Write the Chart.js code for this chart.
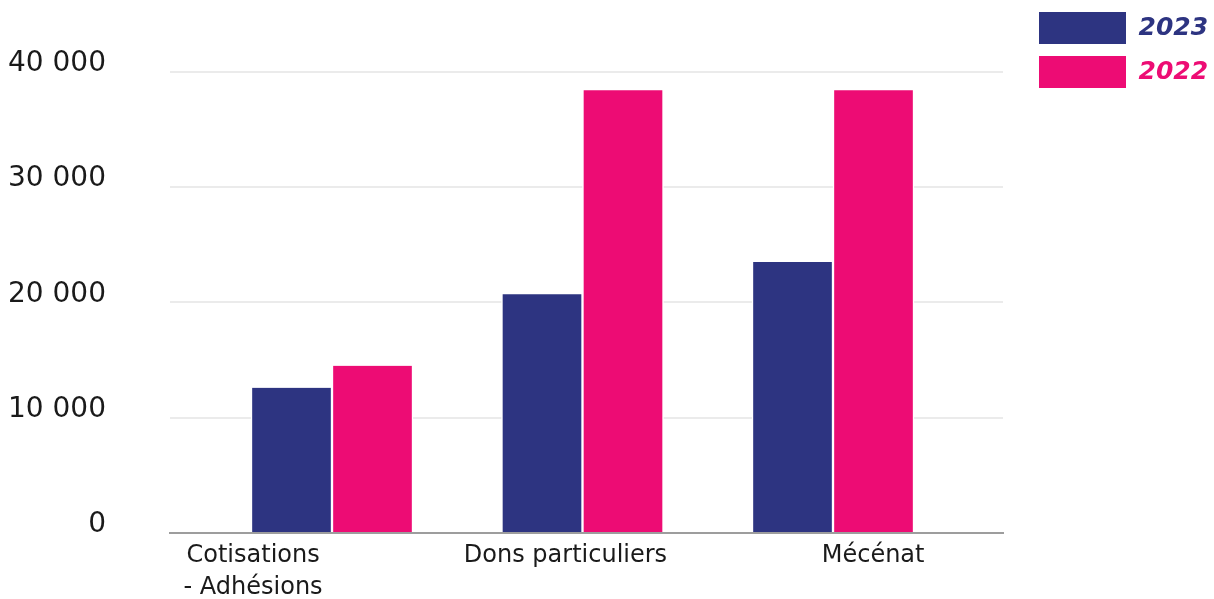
<!DOCTYPE html>
<html lang="fr">
<head>
<meta charset="utf-8">
<title>Ressources 2022–2023</title>
<script src="https://cdn.jsdelivr.net/npm/chart.js@4/dist/chart.umd.min.js"></script>
<style>
  html, body { margin: 0; padding: 0; background: #fff; }
  #wrap { width: 1214px; height: 599px; position: relative; }
</style>
</head>
<body>
<div id="wrap"><canvas id="chart"></canvas></div>
<script>
// Resource categories and yearly amounts (€)
const categories = [['Cotisations', '- Adhésions'], 'Dons particuliers', 'Mécénat'];
const values2023 = [12600, 20700, 23500];
const values2022 = [14500, 38400, 38400];
const seriesNames = ['2023', '2022'];
const yTickValues = [0, 10000, 20000, 30000, 40000];
const yTickLabels = ['0', '10 000', '20 000', '30 000', '40 000'];

// Styling / layout
const NAVY = '#2d3481';
const PINK = '#ed0c74';
const TEXT = '#1a1a1a';
// horizontal nudge of each category label, in category units
const labelShift = [-0.315, -0.068, 0.16];

new Chart(document.getElementById('chart'), {
  type: 'bar',
  data: {
    datasets: [
      { label: seriesNames[0], data: values2023.map((v, i) => ({ x: i, y: v })), backgroundColor: NAVY },
      { label: seriesNames[1], data: values2022.map((v, i) => ({ x: i, y: v })), backgroundColor: PINK }
    ]
  },
  options: {
    responsive: true,
    maintainAspectRatio: false,
    animation: false,
    layout: { padding: 0 },
    datasets: {
      bar: {
        barThickness: 81,
        borderColor: '#ffffff',
        borderWidth: { left: 1.5, right: 1.5, top: 0, bottom: 0 },
        borderSkipped: false
      }
    },
    scales: {
      x: {
        type: 'linear',
        offset: false,
        min: -0.6467,
        max: 2.6786,
        grid: { display: false, drawTicks: false, tickLength: 0 },
        border: { display: true, color: '#9d9d9d', width: 2 },
        ticks: {
          autoSkip: false,
          maxRotation: 0,
          padding: 7,
          color: TEXT,
          font: { family: 'DejaVu Sans', size: 24, lineHeight: 1.333 },
          callback: (v, i) => categories[i]
        },
        afterBuildTicks: s => { s.ticks = categories.map((c, i) => ({ value: i + labelShift[i] })); },
        afterFit: s => { s.height = 66; }
      },
      y: {
        min: 0,
        max: 46230,
        grid: { color: '#ebebeb', lineWidth: 2, drawTicks: false, tickLength: 0 },
        border: { display: false },
        ticks: {
          padding: 64,
          labelOffset: -8,
          color: TEXT,
          font: { family: 'DejaVu Sans', size: 28 },
          callback: (v, i) => yTickLabels[i]
        },
        afterBuildTicks: s => { s.ticks = yTickValues.map(v => ({ value: v })); },
        afterFit: s => {
          s.width = 170;
          s.paddingTop = 0;
          s.paddingBottom = 0;
        }
      },
      // empty right-hand gutter between the plot and the legend
      gutter: {
        type: 'linear',
        position: 'right',
        display: true,
        grid: { display: false, drawTicks: false },
        border: { display: false },
        ticks: { display: false },
        afterFit: s => { s.width = 24; }
      }
    },
    plugins: {
      legend: {
        position: 'right',
        align: 'start',
        maxWidth: 187,
        labels: {
          boxWidth: 87,
          boxHeight: 32,
          padding: 12,
          font: { family: 'DejaVu Sans', size: 25, style: 'italic', weight: 'bold' },
          generateLabels: chart => Chart.defaults.plugins.legend.labels.generateLabels(chart)
            .map(item => ({ ...item, fontColor: item.fillStyle, lineWidth: 0 }))
        }
      },
      tooltip: { enabled: false }
    }
  }
});
</script>
</body>
</html>
